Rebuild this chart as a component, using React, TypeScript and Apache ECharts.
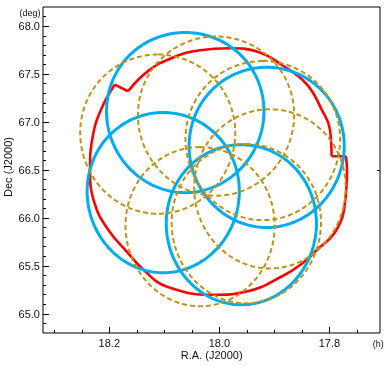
import React, { useEffect, useRef } from "react";
import * as echarts from "echarts";

// Axis ranges (R.A. in hours, reversed; Dec in degrees)
const raRange = [17.708, 18.3205];
const decRange = [64.8, 68.2];

const xMajorTicks = [18.2, 18.0, 17.8];
const xMinorTicks = [18.3, 18.25, 18.15, 18.1, 18.05, 17.95, 17.9, 17.85, 17.75];
const yMajorTicks = [65.0, 65.5, 66.0, 66.5, 67.0, 67.5, 68.0];
const yMinorTicks = [
  64.9, 65.1, 65.2, 65.3, 65.4, 65.6, 65.7, 65.8, 65.9, 66.1, 66.2, 66.3, 66.4,
  66.6, 66.7, 66.8, 66.9, 67.1, 67.2, 67.3, 67.4, 67.6, 67.7, 67.8, 67.9, 68.1,
];
const yRightTicks = [66.5];

// [R.A. (h), Dec (deg), radius (deg)]
const blueCircles = [
  [18.062, 67.099, 0.835],
  [17.914, 66.736, 0.835],
  [18.102, 66.264, 0.835],
  [17.96, 65.929, 0.835],
];
const goldCircles = [
  [18.112, 66.874, 0.83],
  [18.006, 67.062, 0.83],
  [17.921, 66.807, 0.83],
  [17.908, 66.303, 0.83],
  [18.035, 65.909, 0.83],
  [17.951, 65.94, 0.83],
];

// Red footprint outline vertices [R.A. (h), Dec (deg)]
const redOutline = [
  [17.9805, 67.77], [17.932, 67.736], [17.884, 67.587], [17.841, 67.394],
  [17.814, 67.13], [17.799, 66.921], [17.796, 66.643], [17.77, 66.643],
  [17.768, 66.504], [17.771, 66.19], [17.787, 65.877], [17.826, 65.648],
  [17.85, 65.522], [17.884, 65.397], [17.95, 65.233], [18.011, 65.199],
  [18.096, 65.285], [18.136, 65.449], [18.166, 65.634], [18.202, 65.877],
  [18.227, 66.156], [18.235, 66.504], [18.23, 66.851], [18.215, 67.13],
  [18.19, 67.391], [18.166, 67.321], [18.129, 67.534], [18.084, 67.673],
  [18.035, 67.749],
];
// index pairs of straight (notch) segments
const redNotches = [[6, 7], [24, 25]];

const FONT = "'Liberation Sans', Arial, Helvetica, sans-serif";

function circleRenderer(color: string, width: number, dash: number[] | null) {
  return (params: any, api: any) => {
    const ra0 = (api.value(0) * 15 * Math.PI) / 180;
    const d0 = (api.value(1) * Math.PI) / 180;
    const r = (api.value(2) * Math.PI) / 180;
    const pts: number[][] = [];
    const N = 180;
    for (let i = 0; i <= N; i++) {
      const t = (2 * Math.PI * i) / N;
      const sd = Math.sin(d0) * Math.cos(r) + Math.cos(d0) * Math.sin(r) * Math.cos(t);
      const d = Math.asin(sd);
      const da = Math.atan2(
        Math.sin(t) * Math.sin(r) * Math.cos(d0),
        Math.cos(r) - Math.sin(d0) * sd
      );
      const raH = ((ra0 + da) * 180) / Math.PI / 15;
      pts.push(api.coord([raH, (d * 180) / Math.PI]));
    }
    return {
      type: "polyline",
      shape: { points: pts },
      style: {
        stroke: color,
        lineWidth: width,
        fill: null,
        lineDash: dash || undefined,
      },
    };
  };
}

function redPieces() {
  const n = redOutline.length;
  const [a0, a1] = redNotches[0];
  const [b0, b1] = redNotches[1];
  const arcA: number[][] = [];
  for (let i = b1; i !== a0 + 1; i = (i + 1) % n) arcA.push(redOutline[i]);
  const arcB: number[][] = [];
  for (let i = a1; i <= b0; i++) arcB.push(redOutline[i]);
  return [
    { data: arcA, smooth: 0.45 },
    { data: [redOutline[a0], redOutline[a1]], smooth: false },
    { data: arcB, smooth: 0.45 },
    { data: [redOutline[b0], redOutline[b1]], smooth: false },
  ];
}

export default function App() {
  const ref = useRef<HTMLDivElement>(null);
  useEffect(() => {
    if (!ref.current) return;
    const chart = echarts.init(ref.current, null, { renderer: "svg" });
    const baseX = {
      type: "value",
      min: raRange[0],
      max: raRange[1],
      inverse: true,
      position: "bottom",
      axisLine: { show: false },
      splitLine: { show: false },
    };
    const baseY = {
      type: "value",
      min: decRange[0],
      max: decRange[1],
      axisLine: { show: false },
      splitLine: { show: false },
    };
    const redSeries = redPieces().map((p) => ({
      type: "line",
      data: p.data,
      smooth: p.smooth,
      symbol: "none",
      showSymbol: false,
      lineStyle: { color: "#ff0000", width: 2.6 },
      z: 2,
    }));
    chart.setOption({
      animation: false,
      grid: {
        left: 43,
        right: 6,
        top: 7,
        bottom: 33,
        show: true,
        borderColor: "#000",
        borderWidth: 1,
        backgroundColor: "transparent",
      },
      xAxis: [
        {
          ...baseX,
          axisTick: {
            show: true,
            inside: true,
            length: 6,
            customValues: xMajorTicks,
            lineStyle: { color: "#000", width: 1 },
          },
          axisLabel: {
            show: true,
            customValues: xMajorTicks,
            formatter: (v: number) => v.toFixed(1),
            margin: 4,
            fontSize: 11,
            fontFamily: FONT,
            color: "#111",
          },
        },
        {
          ...baseX,
          axisTick: {
            show: true,
            inside: true,
            length: 3,
            customValues: xMinorTicks,
            lineStyle: { color: "#000", width: 1 },
          },
          axisLabel: { show: false },
        },
      ],
      yAxis: [
        {
          ...baseY,
          position: "left",
          axisTick: {
            show: true,
            inside: true,
            length: 6,
            customValues: yMajorTicks,
            lineStyle: { color: "#000", width: 1 },
          },
          axisLabel: {
            show: true,
            customValues: yMajorTicks,
            formatter: (v: number) => v.toFixed(1),
            margin: 3,
            fontSize: 11,
            fontFamily: FONT,
            color: "#111",
          },
        },
        {
          ...baseY,
          position: "left",
          axisTick: {
            show: true,
            inside: true,
            length: 3,
            customValues: yMinorTicks,
            lineStyle: { color: "#000", width: 1 },
          },
          axisLabel: { show: false },
        },
        {
          ...baseY,
          position: "right",
          axisTick: {
            show: true,
            inside: true,
            length: 3,
            customValues: yRightTicks,
            lineStyle: { color: "#000", width: 1 },
          },
          axisLabel: { show: false },
        },
      ],
      graphic: [
        {
          type: "text",
          x: 211.7,
          y: 355,
          style: {
            text: "R.A. (J2000)",
            fontSize: 11,
            fontFamily: FONT,
            fill: "#111",
            align: "center",
            verticalAlign: "middle",
          },
        },
        {
          type: "text",
          x: 7.5,
          y: 167,
          rotation: Math.PI / 2,
          style: {
            text: "Dec (J2000)",
            fontSize: 11,
            fontFamily: FONT,
            fill: "#111",
            align: "center",
            verticalAlign: "middle",
          },
        },
        {
          type: "text",
          x: 30,
          y: 12.7,
          style: {
            text: "(deg)",
            fontSize: 9,
            fontFamily: FONT,
            fill: "#111",
            align: "center",
            verticalAlign: "middle",
          },
        },
        {
          type: "text",
          x: 378.3,
          y: 344,
          style: {
            text: "(h)",
            fontSize: 9,
            fontFamily: FONT,
            fill: "#111",
            align: "center",
            verticalAlign: "middle",
          },
        },
      ],
      series: [
        ...redSeries,
        {
          type: "custom",
          coordinateSystem: "cartesian2d",
          xAxisIndex: 0,
          yAxisIndex: 0,
          data: blueCircles,
          encode: { x: 0, y: 1 },
          renderItem: circleRenderer("#00aeef", 3, null),
          z: 3,
        },
        {
          type: "custom",
          coordinateSystem: "cartesian2d",
          xAxisIndex: 0,
          yAxisIndex: 0,
          data: goldCircles,
          encode: { x: 0, y: 1 },
          renderItem: circleRenderer("#bf9214", 2, [5, 3]),
          z: 4,
        },
      ],
    });
    return () => chart.dispose();
  }, []);
  return (
    <div
      ref={ref}
      style={{ position: "fixed", left: 0, top: 0, width: 386, height: 366 }}
    />
  );
}
